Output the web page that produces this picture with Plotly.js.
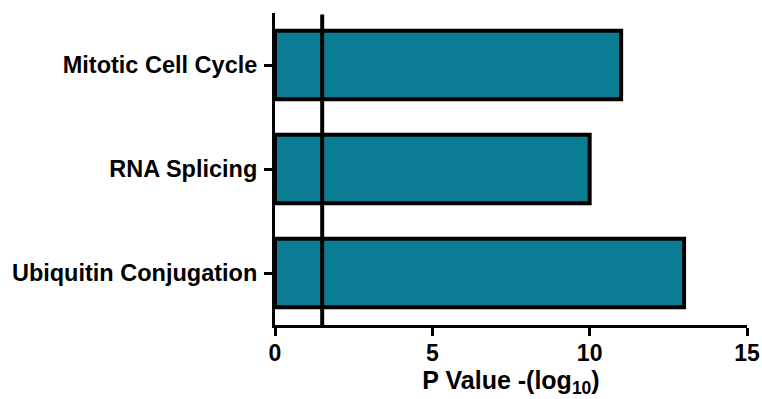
<!DOCTYPE html>
<html>
<head>
<meta charset="utf-8">
<script src="https://cdn.plot.ly/plotly-3.0.1.min.js"></script>
<style>html,body{margin:0;padding:0;background:#fff}#chart{width:762px;height:399px}</style>
</head>
<body>
<div id="chart"></div>
<script>
const categories = ["Ubiquitin Conjugation", "RNA Splicing", "Mitotic Cell Cycle"];
const pValues = [13, 10, 11];
const threshold = 1.5;
const xTicks = [0, 5, 10, 15];

const FONT = "Liberation Sans, Arial, sans-serif";

const trace = {
  type: "bar",
  orientation: "h",
  y: categories,
  x: pValues,
  width: 0.66,
  marker: { color: "#0A7D95", line: { color: "#000", width: 4 } },
  hoverinfo: "x+y"
};

const layout = {
  width: 762, height: 399,
  margin: { l: 275, r: 15, t: 13, b: 74 },
  paper_bgcolor: "#fff", plot_bgcolor: "#fff",
  showlegend: false,
  font: { family: FONT, color: "#000" },
  xaxis: {
    range: [0, 15],
    tickvals: xTicks,
    ticktext: xTicks.map(String),
    showgrid: false, zeroline: false,
    showline: true, linecolor: "#000", linewidth: 3,
    ticks: "outside", ticklen: 8, tickwidth: 3, tickcolor: "#000",
    ticklabelstandoff: -3,
    tickfont: { size: 23, family: FONT, weight: "bold", color: "#000" },
    title: { text: "<b>P Value -(log<sub>10</sub>)</b>", font: { size: 25, family: FONT, color: "#000" }, standoff: 6 }
  },
  yaxis: {
    type: "category",
    range: [-0.5, 2.5],
    showgrid: false, zeroline: false,
    showline: true, linecolor: "#000", linewidth: 3,
    ticks: "outside", ticklen: 8, tickwidth: 3, tickcolor: "#000",
    tickfont: { size: 23.5, family: FONT, weight: "bold", color: "#000" },
    ticklabelstandoff: 2
  },
  shapes: [{
    type: "line", layer: "above",
    xref: "x", yref: "paper",
    x0: threshold, x1: threshold, y0: 0, y1: 0.995,
    line: { color: "#000", width: 4 }
  }]
};

Plotly.newPlot("chart", [trace], layout, { displayModeBar: false, staticPlot: true });
</script>
</body>
</html>
